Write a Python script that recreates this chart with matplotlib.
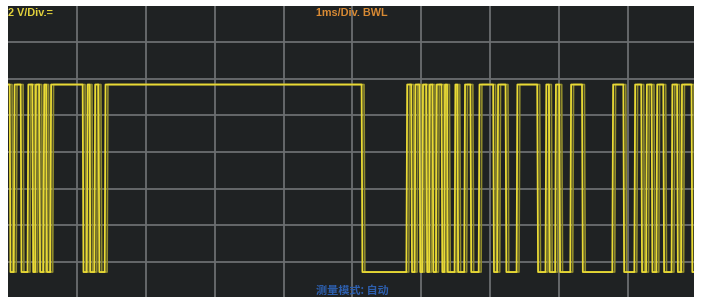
import matplotlib
matplotlib.use("Agg")
import matplotlib.pyplot as plt
import numpy as np

# ---- data (time in ms, level in divisions) ----
edge_times = [0.03, 0.09, 0.19, 0.29, 0.36, 0.40, 0.46, 0.52, 0.56, 0.62,
              1.09, 1.15, 1.19, 1.26, 1.32, 1.41,
              5.14, 5.79,
              5.86, 5.91, 5.98, 6.02, 6.08, 6.12, 6.17, 6.22, 6.30, 6.34,
              6.38, 6.49, 6.53, 6.63, 6.72, 6.84, 7.05, 7.11, 7.23, 7.39,
              7.69, 7.81, 7.86, 7.95, 8.01, 8.17, 8.34, 8.78, 8.94, 9.10,
              9.20, 9.27, 9.35, 9.42, 9.52, 9.64, 9.72, 9.78, 9.93]
high_level = 5.84
low_level = 0.73
t_start, t_end = 0.0, 9.96
start_high = True

top_left_label = "2 V/Div.="
top_center_label = "1ms/Div. BWL"
bottom_label = "测量模式: 自动"

def build_trace(edges, shift=0.0, rise=0.012):
    level = high_level if start_high else low_level
    xs, ys = [t_start], [level]
    for e in edges:
        e = e + shift
        xs.append(e - rise / 2); ys.append(level)
        level = low_level if level == high_level else high_level
        xs.append(e + rise / 2); ys.append(level)
    xs.append(t_end); ys.append(level)
    return np.array(xs), np.array(ys)

fig = plt.figure(figsize=(7.03, 3.04), dpi=100)
fig.patch.set_facecolor("white")
W, H = 703, 304
ax = fig.add_axes([8 / W, (H - 297) / H, (694 - 8) / W, (297 - 6) / H])
ax.set_facecolor("#1f2223")
ax.set_xlim(0, 9.96)
ax.set_ylim(0.05, 7.98)

for gx in range(1, 10):
    ax.axvline(gx, color="#6b6e70", lw=1.3, zorder=1)
for gy in range(1, 8):
    ax.axhline(gy, color="#6b6e70", lw=1.3, zorder=1)

gx_, gy_ = build_trace(edge_times, shift=0.035)
ax.plot(gx_, gy_, color="#8f8a2c", lw=1.2, zorder=2, solid_joinstyle="round")
mx, my = build_trace(edge_times)
ax.plot(mx, my, color="#e9da35", lw=1.3, zorder=3, solid_joinstyle="round")

for s in ax.spines.values():
    s.set_visible(False)
ax.set_xticks([]); ax.set_yticks([])

fig.text(8 / W, 1 - 13 / H, top_left_label, color="#e2d23c", fontsize=7.8,
         fontweight="bold", ha="left", va="center", family="Liberation Sans")
fig.text(352 / W, 1 - 13 / H, top_center_label, color="#d88a34", fontsize=7.8,
         fontweight="bold", ha="center", va="center", family="Liberation Sans")
fig.text(352 / W, 1 - 290 / H, bottom_label, color="#2d5fae", fontsize=8,
         fontweight="bold", ha="center", va="center",
         family=["Noto Sans CJK SC", "DejaVu Sans"])

fig.savefig("out.png", dpi=100, facecolor="white")
